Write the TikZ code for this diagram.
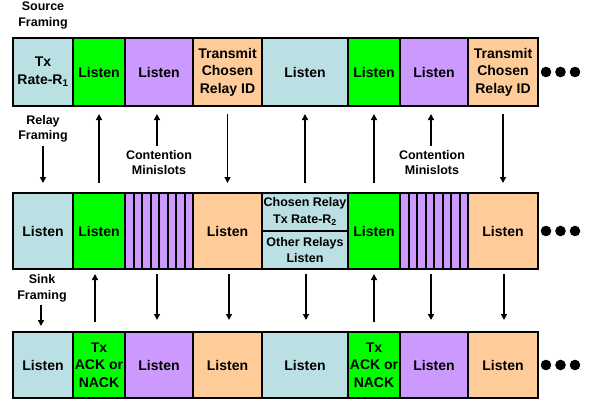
\documentclass[tikz,border=0pt]{standalone}
\usepackage{fontspec}
\setmainfont{Liberation Sans}
\usetikzlibrary{arrows.meta,calc}
\definecolor{cblue}{RGB}{186,224,228}
\definecolor{cgreen}{RGB}{0,255,0}
\definecolor{cpurple}{RGB}{204,153,255}
\definecolor{corange}{RGB}{255,204,153}
\begin{document}
\begin{tikzpicture}[x=1pt,y=-1pt,
  cell/.style={draw=black, line width=2.5pt, inner sep=0pt, outer sep=0pt, align=center,
    font=\fontsize{14}{17.5}\selectfont\bfseries},
  small/.style={font=\fontsize{12.5}{15.5}\selectfont\bfseries, align=center, inner sep=1pt},
  arr/.style={line width=1.8pt, -{Triangle[length=6pt,width=6pt]}},
  stripe/.style={line width=2pt},
  dot/.style={fill=black}
]
\useasboundingbox (0,0) rectangle (592,400);

% ---------- Row 1 (source) ----------
\node[cell, fill=cblue,   minimum width=60pt, minimum height=68pt] (r1c1) at (43,72)   {Tx\\Rate-R\textsubscript{1}};
\node[cell, fill=cgreen,  minimum width=52pt, minimum height=68pt] (r1c2) at (99,72)   {Listen};
\node[cell, fill=cpurple, minimum width=68pt, minimum height=68pt] (r1c3) at (159,72)  {Listen};
\node[cell, fill=corange, minimum width=69pt, minimum height=68pt] (r1c4) at (227.5,72){Transmit\\Chosen\\Relay ID};
\node[cell, fill=cblue,   minimum width=86pt, minimum height=68pt] (r1c5) at (305,72)  {Listen};
\node[cell, fill=cgreen,  minimum width=52pt, minimum height=68pt] (r1c6) at (374,72)  {Listen};
\node[cell, fill=cpurple, minimum width=68pt, minimum height=68pt] (r1c7) at (434,72)  {Listen};
\node[cell, fill=corange, minimum width=70pt, minimum height=68pt] (r1c8) at (503,72)  {Transmit\\Chosen\\Relay ID};

% ---------- Row 2 (relay) ----------
\node[cell, fill=cblue,   minimum width=60pt, minimum height=76pt] (r2c1) at (43,231)   {Listen};
\node[cell, fill=cgreen,  minimum width=52pt, minimum height=76pt] (r2c2) at (99,231)   {Listen};
\node[cell, fill=cpurple, minimum width=68pt, minimum height=76pt] (r2c3) at (159,231)  {};
\node[cell, fill=corange, minimum width=69pt, minimum height=76pt] (r2c4) at (227.5,231){Listen};
\node[cell, fill=cblue,   minimum width=86pt, minimum height=76pt] (r2c5) at (305,231)  {};
\node[cell, fill=cgreen,  minimum width=52pt, minimum height=76pt] (r2c6) at (374,231)  {Listen};
\node[cell, fill=cpurple, minimum width=68pt, minimum height=76pt] (r2c7) at (434,231)  {};
\node[cell, fill=corange, minimum width=70pt, minimum height=76pt] (r2c8) at (503,231)  {Listen};
\foreach \k in {1,...,7} {
  \draw[stripe] ($(r2c3.north west)!\k/8!(r2c3.north east)$) -- ($(r2c3.south west)!\k/8!(r2c3.south east)$);
  \draw[stripe] ($(r2c7.north west)!\k/8!(r2c7.north east)$) -- ($(r2c7.south west)!\k/8!(r2c7.south east)$);
}
\draw[line width=2pt] (r2c5.west) -- (r2c5.east);
\node[small, font=\fontsize{12.5}{16.5}\selectfont\bfseries] (r2c5a) at (305,211.5) {Chosen Relay\\Tx Rate-R\textsubscript{2}};
\node[small, font=\fontsize{12.5}{15.5}\selectfont\bfseries] (r2c5b) at (305,250) {Other Relays\\Listen};

% ---------- Row 3 (sink) ----------
\node[cell, fill=cblue,   minimum width=60pt, minimum height=66pt] (r3c1) at (43,365)   {Listen};
\node[cell, fill=cgreen,  minimum width=52pt, minimum height=66pt] (r3c2) at (99,365)   {Tx\\ACK or\\NACK};
\node[cell, fill=cpurple, minimum width=68pt, minimum height=66pt] (r3c3) at (159,365)  {Listen};
\node[cell, fill=corange, minimum width=69pt, minimum height=66pt] (r3c4) at (227.5,365){Listen};
\node[cell, fill=cblue,   minimum width=86pt, minimum height=66pt] (r3c5) at (305,365)  {Listen};
\node[cell, fill=cgreen,  minimum width=52pt, minimum height=66pt] (r3c6) at (374,365)  {Tx\\ACK or\\NACK};
\node[cell, fill=cpurple, minimum width=68pt, minimum height=66pt] (r3c7) at (434,365)  {Listen};
\node[cell, fill=corange, minimum width=70pt, minimum height=66pt] (r3c8) at (503,365)  {Listen};

% ---------- ellipses ----------
\foreach \yy in {72,231,365} {
  \fill[dot] (546,\yy) circle (5.3);
  \fill[dot] (560.5,\yy) circle (5.3);
  \fill[dot] (575,\yy) circle (5.3);
}

% ---------- labels ----------
\node[small] (srcf) at (43,15.5) {Source\\Framing};
\node[small] (relf) at (43,129) {Relay\\Framing};
\node[small] (sinkf) at (42,288.5) {Sink\\Framing};
\node[small] (cm1) at (159,162.5) {Contention\\Minislots};
\node[small] (cm2) at (432,162.5) {Contention\\Minislots};

% ---------- arrows row1 <-> row2 ----------
\draw[arr, shorten <=2pt] (relf.south) -- ($(relf.south |- r2c1.north)+(0,-10)$);
\draw[arr, shorten <=10pt, shorten >=8pt] (r2c2.north) -- (r1c2.south);
\draw[arr, shorten <=3pt, shorten >=8pt] ([xshift=-2pt]cm1.north) -- ([xshift=-2pt]cm1.north |- r1c3.south);
\draw[arr, shorten <=8pt, shorten >=10pt] (r1c4.south) -- (r2c4.north);
\draw[arr, shorten <=10pt, shorten >=8pt] (r2c5.north) -- (r1c5.south);
\draw[arr, shorten <=10pt, shorten >=8pt] (r2c6.north) -- (r1c6.south);
\draw[arr, shorten <=3pt, shorten >=8pt] ([xshift=-1pt]cm2.north) -- ([xshift=-1pt]cm2.north |- r1c7.south);
\draw[arr, shorten <=8pt, shorten >=10pt] (r1c8.south) -- (r2c8.north);

% ---------- arrows row2 <-> row3 ----------
\draw[arr, shorten <=2pt] ([xshift=-1pt]sinkf.south) -- ($([xshift=-1pt]sinkf.south |- r3c1.north)+(0,-6)$);
\draw[arr, shorten <=10pt, shorten >=5pt] ([xshift=-4pt]r3c2.north) -- ([xshift=-4pt]r2c2.south);
\draw[arr, shorten <=5pt, shorten >=12pt] ([xshift=-2pt]r2c3.south) -- ([xshift=-2pt]r3c3.north);
\draw[arr, shorten <=5pt, shorten >=12pt] ([xshift=1.5pt]r2c4.south) -- ([xshift=1.5pt]r3c4.north);
\draw[arr, shorten <=5pt, shorten >=12pt] ([xshift=1pt]r2c5.south) -- ([xshift=1pt]r3c5.north);
\draw[arr, shorten <=10pt, shorten >=5pt] (r3c6.north) -- (r2c6.south);
\draw[arr, shorten <=5pt, shorten >=12pt] ([xshift=-3pt]r2c7.south) -- ([xshift=-3pt]r3c7.north);
\draw[arr, shorten <=5pt, shorten >=12pt] ([xshift=1pt]r2c8.south) -- ([xshift=1pt]r3c8.north);
\end{tikzpicture}
\end{document}
